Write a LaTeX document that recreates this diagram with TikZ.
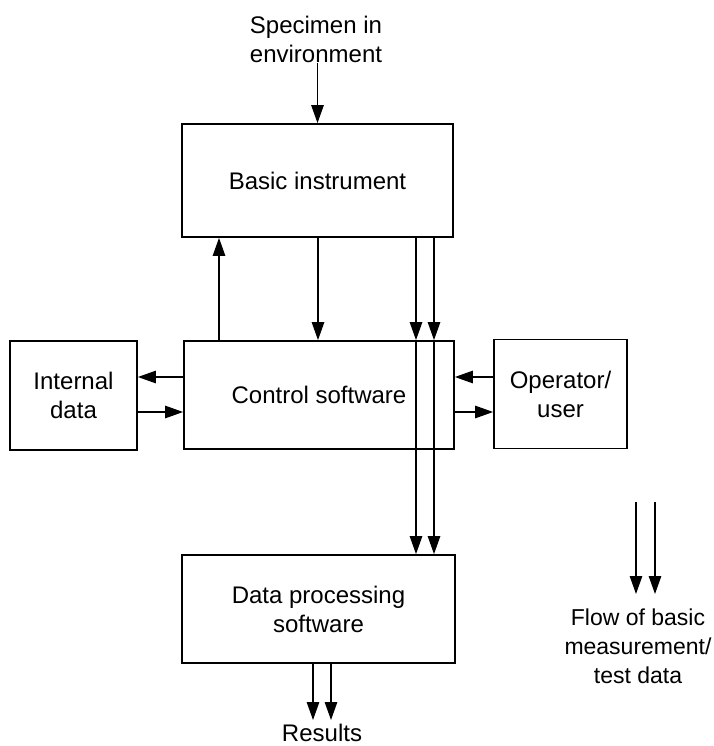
\documentclass[tikz,border=0pt]{standalone}
\usepackage{fontspec}
\setmainfont{Liberation Sans}
\usetikzlibrary{arrows.meta}
\begin{document}
\begin{tikzpicture}[x=1pt,y=-1pt,
  blk/.style={draw,line width=1.8pt,inner sep=0pt,align=center,font=\fontsize{24}{29}\selectfont},
  lbl/.style={inner sep=0pt,align=center,font=\fontsize{24}{29}\selectfont},
  conn/.style={line width=1.2pt,-{Triangle[length=18pt,width=12.5pt]}}]
\useasboundingbox (0,0) rectangle (713,746);
\node[lbl] (spec) at (316,39) {Specimen in\\environment};
\node[blk,minimum width=271pt,minimum height=113pt] (basic) at (317.5,180.5) {Basic instrument};
\node[blk,minimum width=270pt,minimum height=108pt] (ctrl) at (319,395) {Control software};
\node[blk,minimum width=127pt,minimum height=109pt] (int) at (73.5,395.5) {Internal\\data};
\node[blk,minimum width=133pt,minimum height=109pt] (op) at (560.5,394) {Operator/\\user};
\node[blk,minimum width=273pt,minimum height=108pt] (dp) at (318.5,609) {Data processing\\software};
\node[lbl,anchor=base] (res) at (322,741) {Results};
\node[lbl,font=\fontsize{23}{29}\selectfont] (leg) at (638,646) {Flow of basic\\measurement/\\test data};
% helper coordinates
\coordinate (sp) at (317.5,63);
\coordinate (xu) at (219,0);
\coordinate (xd) at (318,0);
\coordinate (xa) at (416,0);
\coordinate (xb) at (434,0);
\coordinate (ya) at (0,377);
\coordinate (yb) at (0,412);
\coordinate (ra) at (313,0);
\coordinate (rb) at (331,0);
\coordinate (rend) at (0,720);
\coordinate (la1) at (636,502);
\coordinate (la2) at (636,594);
\coordinate (lb1) at (655,502);
\coordinate (lb2) at (655,594);
% connectors
\draw[conn] (sp) -- (basic.north);
\draw[conn] (ctrl.north -| xu) -- (basic.south -| xu);
\draw[conn] (basic.south -| xd) -- (ctrl.north -| xd);
\draw[conn] (basic.south -| xa) -- (ctrl.north -| xa);
\draw[conn] (basic.south -| xb) -- (ctrl.north -| xb);
\draw[conn] (ctrl.north -| xa) -- (dp.north -| xa);
\draw[conn] (ctrl.north -| xb) -- (dp.north -| xb);
\draw[conn] (ctrl.west |- ya) -- (int.east |- ya);
\draw[conn] (int.east |- yb) -- (ctrl.west |- yb);
\draw[conn] (op.west |- ya) -- (ctrl.east |- ya);
\draw[conn] (ctrl.east |- yb) -- (op.west |- yb);
\draw[conn] (dp.south -| ra) -- (rend -| ra);
\draw[conn] (dp.south -| rb) -- (rend -| rb);
\draw[conn] (la1) -- (la2);
\draw[conn] (lb1) -- (lb2);
\end{tikzpicture}
\end{document}
